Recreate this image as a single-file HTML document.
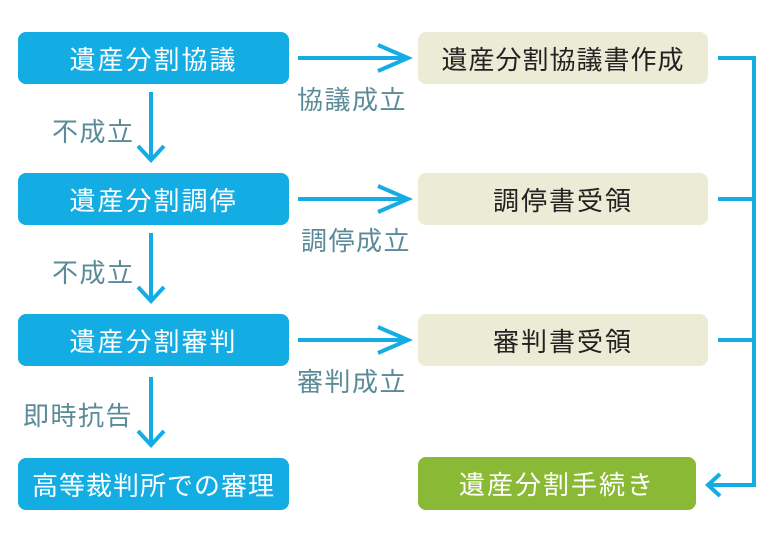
<!DOCTYPE html>
<html><head><meta charset="utf-8"><style>
body{margin:0;width:780px;height:540px;background:#fff;position:relative;font-family:"Liberation Sans","Noto Sans CJK JP",sans-serif;overflow:hidden}
.b{position:absolute;border-radius:8px;display:flex;align-items:center;justify-content:center;font-size:26px;letter-spacing:2px}
.l{left:18px;width:271px;height:52px;background:#13ade4;color:#fff}
.r{left:418px;width:290px;height:52px;background:#ecebd5;color:#222}
.t{position:absolute;font-size:26px;color:#5b8b99;letter-spacing:1.5px}
svg{position:absolute;left:0;top:0}
</style></head><body>
<svg width="780" height="540" fill="none" stroke="#13ade4" stroke-width="4">
<path d="M298 58H408M378 45L408 58L378 71"/>
<path d="M298 199H408M378 186L408 199L378 212"/>
<path d="M298 340H408M378 327L408 340L378 353"/>
<path d="M151 92V160M138 146L151 160L164 146"/>
<path d="M151 233V301M138 287L151 301L164 287"/>
<path d="M151 377V445M138 431L151 445L164 431"/>
<path d="M718 58H754V485H708M720 474L708 485L720 496"/>
<path d="M718 199H754M718 340H754"/>
</svg>
<div class="b l" style="top:32px">遺産分割協議</div>
<div class="b l" style="top:173px">遺産分割調停</div>
<div class="b l" style="top:314px">遺産分割審判</div>
<div class="b l" style="top:458px;letter-spacing:1px">高等裁判所での審理</div>
<div class="b r" style="top:32px;letter-spacing:1px">遺産分割協議書作成</div>
<div class="b r" style="top:173px">調停書受領</div>
<div class="b r" style="top:314px">審判書受領</div>
<div class="b" style="left:418px;top:457px;width:278px;height:53px;background:#8aba35;color:#fff">遺産分割手続き</div>
<div class="t" style="left:297px;top:80px">協議成立</div>
<div class="t" style="left:301px;top:221px">調停成立</div>
<div class="t" style="left:297px;top:362px">審判成立</div>
<div class="t" style="left:52px;top:112px">不成立</div>
<div class="t" style="left:52px;top:253px">不成立</div>
<div class="t" style="left:23px;top:396px">即時抗告</div>
</body></html>
